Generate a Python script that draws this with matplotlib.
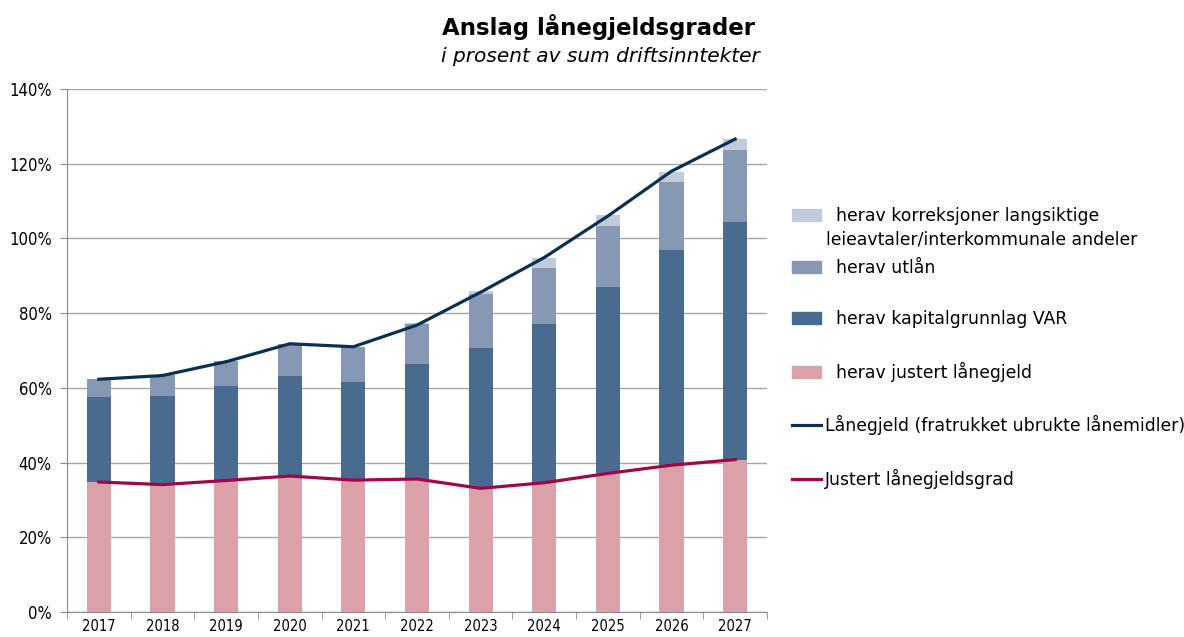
import matplotlib.pyplot as plt
import numpy as np
from matplotlib.patches import Patch
from matplotlib.lines import Line2D

years = ['2017', '2018', '2019', '2020', '2021', '2022', '2023', '2024', '2025', '2026', '2027']

# verdier i prosent av sum driftsinntekter
justert = [34.8, 34.0, 35.2, 36.4, 35.3, 35.6, 33.1, 34.6, 37.1, 39.3, 40.8]
var_topp = [57.5, 57.8, 60.6, 63.3, 61.7, 66.3, 70.8, 77.0, 86.9, 97.0, 104.3]
utlan_topp = [62.4, 63.4, 67.3, 71.7, 70.9, 77.0, 85.2, 92.2, 103.4, 115.0, 123.8]
korr_topp = [62.4, 63.4, 67.3, 71.7, 70.9, 77.3, 85.9, 94.8, 106.3, 117.9, 126.5]

lanegjeld = [62.3, 63.3, 67.0, 71.8, 71.0, 76.8, 85.6, 94.9, 106.0, 118.0, 126.6]
justert_grad = [34.8, 34.1, 35.2, 36.4, 35.3, 35.6, 33.1, 34.6, 37.1, 39.3, 40.8]

c_korr = '#C2CBDC'
c_utlan = '#8798B4'
c_var = '#4A6B90'
c_just = '#DBA1A8'
c_line = '#0B2F50'
c_red = '#A0064A'

justert = np.array(justert)
var = np.array(var_topp) - justert
utlan = np.array(utlan_topp) - np.array(var_topp)
korr = np.array(korr_topp) - np.array(utlan_topp)

fig = plt.figure(figsize=(11.84, 6.37), dpi=100)
ax = fig.add_axes([67/1184, 25/637, 700/1184, 523/637])

x = np.arange(len(years))
w = 0.38
ax.bar(x, justert, w, color=c_just, zorder=2)
ax.bar(x, var, w, bottom=justert, color=c_var, zorder=2)
ax.bar(x, utlan, w, bottom=justert + var, color=c_utlan, zorder=2)
ax.bar(x, korr, w, bottom=justert + var + utlan, color=c_korr, zorder=2)
ax.plot(x, lanegjeld, color=c_line, lw=2.3, zorder=3)
ax.plot(x, justert_grad, color=c_red, lw=2.3, zorder=3)

ax.set_xlim(-0.5, len(years) - 0.5)
ax.set_ylim(0, 140)
ax.set_yticks(range(0, 141, 20))
ax.set_yticklabels([f'{v}%' for v in range(0, 141, 20)], fontsize=12, stretch='condensed')
ax.set_xticks(x)
ax.set_xticklabels(years, fontsize=10.5, stretch='condensed')
ax.set_xticks(np.arange(-0.5, len(years)), minor=True)
ax.tick_params(axis='x', which='major', length=0, pad=5)
ax.tick_params(axis='x', which='minor', length=5, color='#888888')
ax.tick_params(axis='y', length=5, color='#888888', pad=6)
ax.grid(axis='y', color='#A6A6A6', lw=1, zorder=0)
for s in ['top', 'right']:
    ax.spines[s].set_visible(False)
for s in ['left', 'bottom']:
    ax.spines[s].set_color('#888888')

fig.text(599/1184, 1 - 27/637, 'Anslag lånegjeldsgrader', ha='center', va='center',
         fontsize=16.5, fontweight='bold')
fig.text(600/1184, 1 - 57/637, 'i prosent av sum driftsinntekter', ha='center', va='center',
         fontsize=14.5, style='italic')

handles = [Patch(color=c_korr), Patch(color=c_utlan), Patch(color=c_var), Patch(color=c_just),
           Line2D([], [], color=c_line, lw=2.3), Line2D([], [], color=c_red, lw=2.3)]
labels = ['  herav korreksjoner langsiktige', '  herav utlån', '  herav kapitalgrunnlag VAR',
          '  herav justert lånegjeld', 'Lånegjeld (fratrukket ubrukte lånemidler)',
          'Justert lånegjeldsgrad']
fig.legend(handles, labels, loc='upper left', bbox_to_anchor=(792/1184, 1 - 207/637),
           frameon=False, fontsize=12.4, handlelength=1.7, handletextpad=0.2,
           labelspacing=1.95, borderpad=0, borderaxespad=0)
fig.text(826/1184, 1 - 240/637, 'leieavtaler/interkommunale andeler', ha='left', va='center',
         fontsize=12.4)

fig.savefig('out.png', dpi=100)
